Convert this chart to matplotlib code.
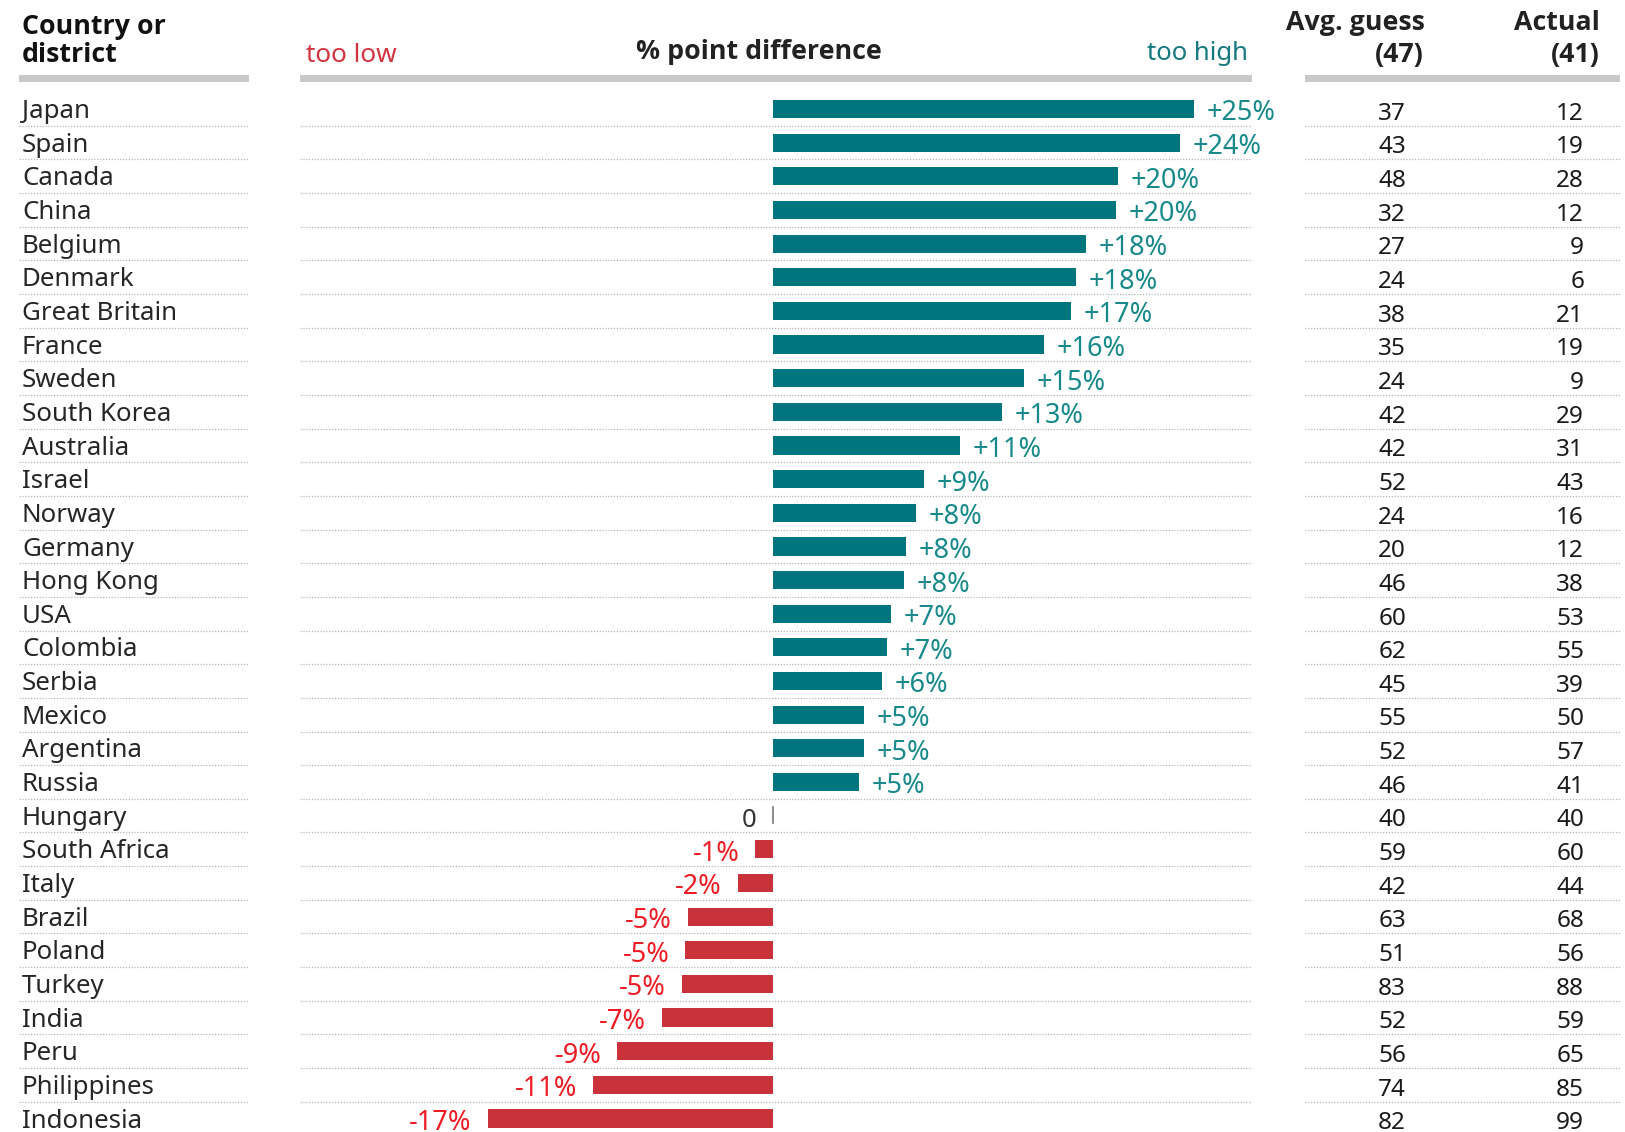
import matplotlib
matplotlib.use("Agg")
import matplotlib.pyplot as plt
from matplotlib.transforms import blended_transform_factory
from matplotlib.patches import Rectangle

plt.rcParams['font.family'] = ['Noto Sans', 'DejaVu Sans']
BOLD_FAMILY = ['Open Sans', 'DejaVu Sans']

countries = ["Japan", "Spain", "Canada", "China", "Belgium", "Denmark", "Great Britain",
             "France", "Sweden", "South Korea", "Australia", "Israel", "Norway", "Germany",
             "Hong Kong", "USA", "Colombia", "Serbia", "Mexico", "Argentina", "Russia",
             "Hungary", "South Africa", "Italy", "Brazil", "Poland", "Turkey", "India",
             "Peru", "Philippines", "Indonesia"]
diff_values = [25.0, 24.2, 20.5, 20.4, 18.6, 18.0, 17.7, 16.1, 14.9, 13.6, 11.1, 9.0, 8.5,
               7.9, 7.8, 7.0, 6.8, 6.5, 5.4, 5.4, 5.1, 0.0, -1.05, -2.1, -5.05, -5.2, -5.4,
               -6.6, -9.25, -10.7, -16.95]
diff_labels = ["+25%", "+24%", "+20%", "+20%", "+18%", "+18%", "+17%", "+16%", "+15%", "+13%",
               "+11%", "+9%", "+8%", "+8%", "+8%", "+7%", "+7%", "+6%", "+5%", "+5%", "+5%",
               "0", "-1%", "-2%", "-5%", "-5%", "-5%", "-7%", "-9%", "-11%", "-17%"]
avg_guess = [37, 43, 48, 32, 27, 24, 38, 35, 24, 42, 42, 52, 24, 20, 46, 60, 62, 45, 55, 52,
             46, 40, 59, 42, 63, 51, 83, 52, 56, 74, 82]
actual = [12, 19, 28, 12, 9, 6, 21, 19, 9, 29, 31, 43, 16, 12, 38, 53, 55, 39, 50, 57, 41,
          40, 60, 44, 68, 56, 88, 59, 65, 85, 99]

W, H = 1625, 1132
fig = plt.figure(figsize=(W / 100, H / 100), dpi=100)

TEAL_BAR = '#00757d'
TEAL_TXT = '#17898b'
RED_BAR = '#c9313b'
RED_TXT = '#ee1c24'
DARK = '#262626'

# bar axes in middle column
x_left_px, x_right_px, zero_px, px_per_unit = 300, 1252, 773, 16.83
row0_px, row_h = 109, 33.65
ax = fig.add_axes([x_left_px / W, 0, (x_right_px - x_left_px) / W, 1])
ax.set_xlim(-(zero_px - x_left_px) / px_per_unit, (x_right_px - zero_px) / px_per_unit)
ax.set_ylim((H - row0_px) / row_h, -row0_px / row_h)
ax.axis('off')

ypos = list(range(len(countries)))
colors = [TEAL_BAR if v > 0 else RED_BAR for v in diff_values]
ax.barh(ypos, diff_values, height=0.54, color=colors, linewidth=0)

LBL_FS = 19.5
for i, (v, lab) in enumerate(zip(diff_values, diff_labels)):
    if v > 0:
        ax.annotate(lab, (v, i + 0.34), xytext=(9, 0), textcoords='offset points',
                    ha='left', va='baseline', fontsize=LBL_FS, color=TEAL_TXT)
    elif v < 0:
        ax.annotate(lab, (v, i + 0.34), xytext=(-11.5, 0), textcoords='offset points',
                    ha='right', va='baseline', fontsize=LBL_FS, color=RED_TXT)
    else:
        ax.plot([0, 0], [i - 0.27, i + 0.22], color='#777777', lw=1.2)
        ax.annotate(lab, (0, i + 0.33), xytext=(-12, 0), textcoords='offset points',
                    ha='right', va='baseline', fontsize=18.5, color='#333333')

blend = blended_transform_factory(fig.transFigure, ax.transData)

# separators
spans = [(19, 249), (300, 1252), (1305, 1620)]
for i in range(len(countries) - 1):
    for x0, x1 in spans:
        ax.plot([x0 / W, x1 / W], [i + 0.5, i + 0.5], transform=blend, clip_on=False,
                color='#b5b5b5', lw=0.9, linestyle=(0, (1, 1.3)))

# table columns
for i, (c, g, a) in enumerate(zip(countries, avg_guess, actual)):
    ax.text(22 / W, i + 0.27, c, transform=blend, ha='left', va='baseline',
            fontsize=18.6, color=DARK)
    ax.text(1406 / W, i + 0.32, str(g), transform=blend, ha='right', va='baseline',
            fontsize=17.5, color='#1a1a1a')
    ax.text(1584 / W, i + 0.32, str(a), transform=blend, ha='right', va='baseline',
            fontsize=17.5, color='#1a1a1a')

# header rules
for x0, x1 in spans:
    fig.patches.append(Rectangle((x0 / W, (H - 82) / H), (x1 - x0) / W, 7 / H,
                                 transform=fig.transFigure, color='#c8c8c6', lw=0))

def ftxt(x, y_top, s, **kw):
    fig.text(x / W, (H - y_top) / H, s, va='baseline', **kw)

hb = dict(fontsize=19.3, fontweight='bold', family=BOLD_FAMILY)
ftxt(22, 34, "Country or", ha='left', color='#111111', **hb)
ftxt(22, 62, "district", ha='left', color='#111111', **hb)
ftxt(306, 62, "too low", ha='left', fontsize=18.8, color='#d2343f')
ftxt(759, 59, "% point difference", ha='center', color='#222222', **hb)
ftxt(1248, 60, "too high", ha='right', fontsize=18.5, color='#16797f')
ftxt(1425, 30, "Avg. guess", ha='right', color='#222222', **hb)
ftxt(1424, 62, "(47)", ha='right', color='#222222', **hb)
ftxt(1600, 30, "Actual", ha='right', color='#222222', **hb)
ftxt(1600, 62, "(41)", ha='right', color='#222222', **hb)

fig.savefig("out.png", dpi=100, facecolor='white')
